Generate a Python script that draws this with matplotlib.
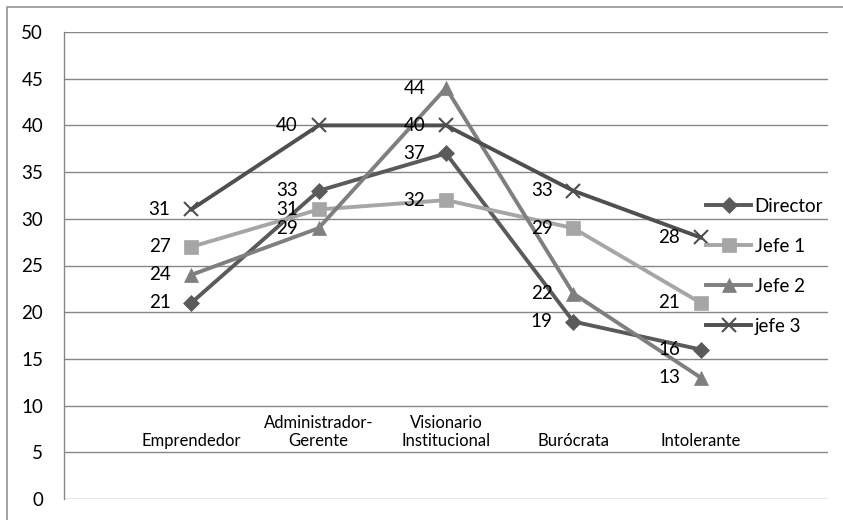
import matplotlib
matplotlib.use('Agg')
from matplotlib import pyplot as plt
from matplotlib.patches import Rectangle

plt.rcParams['font.family'] = ['Lato', 'DejaVu Sans']

# categories and series values
categories = ['Emprendedor', 'Administrador-\nGerente', 'Visionario\nInstitucional',
              'Burócrata', 'Intolerante']
director = [21, 33, 37, 19, 16]
jefe1 = [27, 31, 32, 29, 21]
jefe2 = [24, 29, 44, 22, 13]
jefe3 = [31, 40, 40, 33, 28]

series = [
    ('Director', director, '#5a5a5a', 'D', 8),
    ('Jefe 1', jefe1, '#a6a6a6', 's', 10),
    ('Jefe 2', jefe2, '#7f7f7f', '^', 10),
    ('jefe 3', jefe3, '#4f4f4f', 'x', 10),
]

fig = plt.figure(figsize=(8.43, 5.20), dpi=100)
ax = fig.add_axes([64 / 843, 21 / 520, (828 - 64) / 843, (499 - 32) / 520])

# chart area border (only top and left edges visible)
fig.patches.append(Rectangle((7 / 843, -0.1), 1.2, (513 / 520) + 0.1,
                             transform=fig.transFigure, fill=False,
                             edgecolor='#8a8a8a', linewidth=1.1))

x = list(range(len(categories)))
for name, vals, color, marker, ms in series:
    ax.plot(x, vals, color=color, linewidth=2.8, marker=marker, markersize=ms,
            markeredgewidth=1.5 if marker == 'x' else 0.5,
            markeredgecolor=color, label=name)
    for xi, v in zip(x, vals):
        ax.annotate(str(v), (xi, v), xytext=(-15, 0), textcoords='offset points',
                    ha='right', va='center', fontsize=13.5, color='black')

ax.set_xlim(-1, 5)
ax.set_ylim(0, 50)
ax.set_yticks(range(0, 51, 5))
ax.set_xticks([])
ax.grid(axis='y', color='#868686', linewidth=1.0)
ax.set_axisbelow(True)
for side in ['top', 'right', 'bottom']:
    ax.spines[side].set_visible(False)
ax.spines['left'].set_color('#868686')
ax.spines['left'].set_linewidth(1.0)
ax.tick_params(axis='y', length=0, pad=15, labelsize=13.5)

# category labels sit inside the plot area, between 5 and 10
for xi, lab in zip(x, categories):
    ax.text(xi, 5.3, lab, ha='center', va='bottom', fontsize=12, linespacing=1.2)

ax.legend(loc='upper left', bbox_to_anchor=(706 / 843, (520 - 198) / 520),
          bbox_transform=fig.transFigure, frameon=False, fontsize=13.5,
          handlelength=2.4, handletextpad=0.2, labelspacing=1.22, borderpad=0,
          borderaxespad=0)

fig.savefig('out.png', dpi=100)
